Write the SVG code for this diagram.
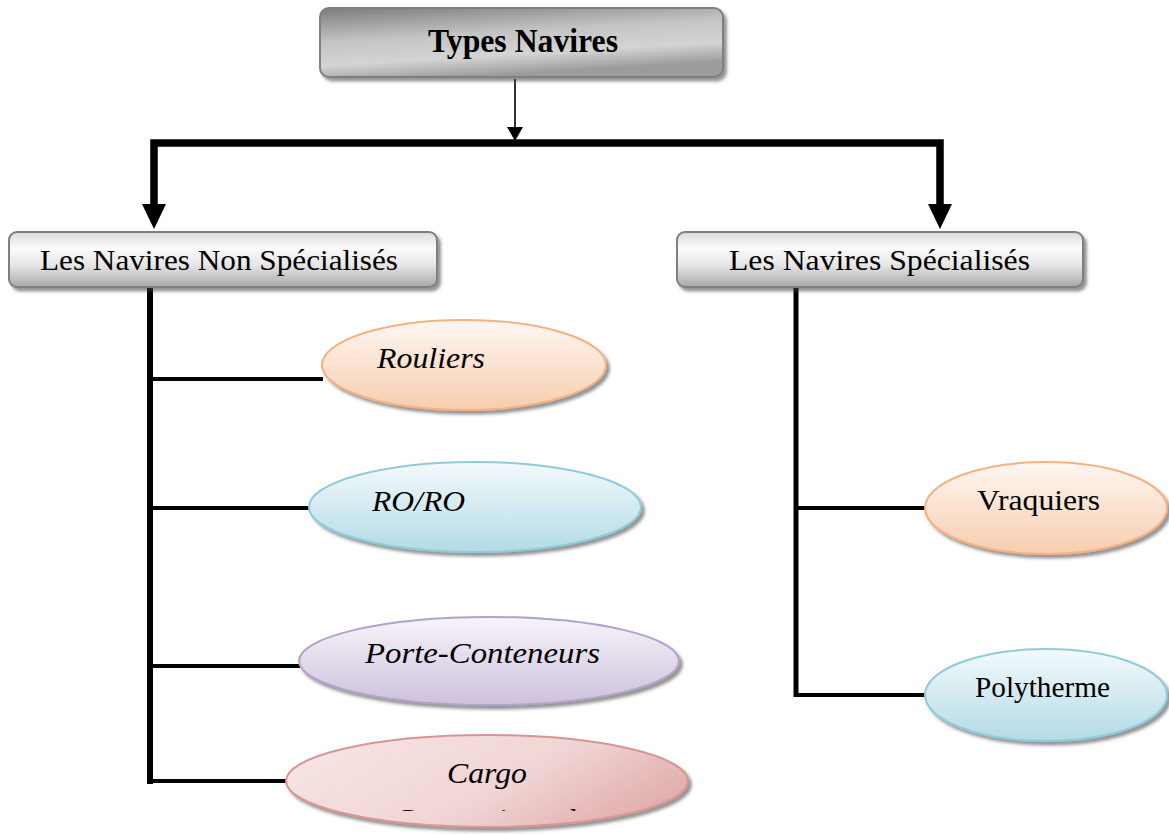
<svg xmlns="http://www.w3.org/2000/svg" width="1169" height="834" viewBox="0 0 1169 834">
  <style>
    .title { font-family: "Liberation Serif", "Times New Roman", serif; font-weight: bold; font-size: 34px; fill: #000; }
    .cat { font-family: "Liberation Serif", "Times New Roman", serif; font-size: 30px; fill: #000; }
    .leaf-i { font-family: "Liberation Serif", "Times New Roman", serif; font-style: italic; font-size: 29px; fill: #000; }
    .leaf { font-family: "Liberation Serif", "Times New Roman", serif; font-size: 30px; fill: #000; }
    .box { stroke: #7f7f7f; stroke-width: 2; filter: url(#shadow); }
    .oval { stroke-width: 2; filter: url(#shadow); }
    .thick { fill: none; stroke: #000; stroke-width: 7.5; stroke-linejoin: miter; }
    .trunk { fill: none; stroke: #000; stroke-width: 6; }
    .branch { fill: none; stroke: #000; stroke-width: 4; }
    .thin { fill: none; stroke: #000; stroke-width: 1.6; }
  </style>
  <defs>
    <filter id="shadow" x="-10%" y="-20%" width="125%" height="150%">
      <feDropShadow dx="3" dy="3.5" stdDeviation="1.6" flood-color="#404040" flood-opacity="0.55"/>
    </filter>
    <linearGradient id="gMetal" x1="0" y1="0" x2="0.35" y2="1">
      <stop offset="0" stop-color="#7c7c7c"/>
      <stop offset="0.45" stop-color="#c4c4c4"/>
      <stop offset="0.75" stop-color="#d4d4d4"/>
      <stop offset="1" stop-color="#9c9c9c"/>
    </linearGradient>
    <linearGradient id="gSilver" x1="0" y1="0" x2="0" y2="1">
      <stop offset="0" stop-color="#dcdcdc"/>
      <stop offset="0.3" stop-color="#fbfbfb"/>
      <stop offset="0.6" stop-color="#e6e6e6"/>
      <stop offset="1" stop-color="#a8a8a8"/>
    </linearGradient>
    <linearGradient id="gOrange" x1="0" y1="0" x2="0" y2="1">
      <stop offset="0" stop-color="#fef7f2"/>
      <stop offset="1" stop-color="#f8cdae"/>
    </linearGradient>
    <linearGradient id="gBlue" x1="0" y1="0" x2="0" y2="1">
      <stop offset="0" stop-color="#f4fafc"/>
      <stop offset="1" stop-color="#b3dbe6"/>
    </linearGradient>
    <linearGradient id="gPurple" x1="0" y1="0" x2="0" y2="1">
      <stop offset="0" stop-color="#f7f4fa"/>
      <stop offset="1" stop-color="#cdc1dc"/>
    </linearGradient>
    <linearGradient id="gPink" x1="0" y1="0.3" x2="1" y2="0.7">
      <stop offset="0" stop-color="#f6e4e3"/>
      <stop offset="0.55" stop-color="#f0d5d4"/>
      <stop offset="1" stop-color="#e0aaa9"/>
    </linearGradient>
    <marker id="headBig" markerUnits="userSpaceOnUse" markerWidth="25" markerHeight="24" viewBox="0 0 25 24" refX="0" refY="12" orient="auto">
      <path d="M0,0 L25,12 L0,24 z" fill="#000"/>
    </marker>
    <marker id="headSmall" markerUnits="userSpaceOnUse" markerWidth="14" markerHeight="16" viewBox="0 0 14 16" refX="0" refY="8" orient="auto">
      <path d="M0,0 L14,8 L0,16 z" fill="#000"/>
    </marker>
    <clipPath id="cargoClip">
      <rect x="280" y="730" width="420" height="81"/>
    </clipPath>
  </defs>

  <!-- connectors -->
  <g id="connectors">
    <line class="thin" x1="515" y1="79" x2="515" y2="127" marker-end="url(#headSmall)"/>
    <path class="thick" d="M515,143 H154 V204" marker-end="url(#headBig)"/>
    <path class="thick" d="M515,143 H940 V204" marker-end="url(#headBig)"/>
    <line class="trunk" x1="150" y1="287" x2="150" y2="784"/>
    <line class="branch" x1="150" y1="379" x2="323" y2="379"/>
    <line class="branch" x1="150" y1="508" x2="310" y2="508"/>
    <line class="branch" x1="150" y1="666" x2="300" y2="666"/>
    <line class="branch" x1="150" y1="781" x2="288" y2="781"/>
    <line class="trunk" x1="796" y1="287" x2="796" y2="697" style="stroke-width:5"/>
    <line class="branch" x1="796" y1="508" x2="926" y2="508"/>
    <line class="branch" x1="796" y1="695" x2="926" y2="695"/>
  </g>

  <!-- root -->
  <g id="types-navires">
    <rect class="box" x="320" y="8" width="403" height="69" rx="9" fill="url(#gMetal)"/>
    <text class="title" x="428" y="52" textLength="190" lengthAdjust="spacingAndGlyphs">Types Navires</text>
  </g>

  <!-- categories -->
  <g id="non-specialises">
    <rect class="box" x="9" y="232" width="428" height="55" rx="8" fill="url(#gSilver)"/>
    <text class="cat" x="40" y="270" textLength="358" lengthAdjust="spacingAndGlyphs">Les Navires Non Spécialisés</text>
  </g>
  <g id="specialises">
    <rect class="box" x="677" y="232" width="406" height="55" rx="8" fill="url(#gSilver)"/>
    <text class="cat" x="729" y="270" textLength="301" lengthAdjust="spacingAndGlyphs">Les Navires Spécialisés</text>
  </g>

  <!-- non-specialised ship types -->
  <g id="rouliers">
    <ellipse class="oval" cx="464" cy="365" rx="142" ry="45" fill="url(#gOrange)" stroke="#f4b183"/>
    <text class="leaf-i" x="377" y="368" textLength="108" lengthAdjust="spacingAndGlyphs">Rouliers</text>
  </g>
  <g id="roro">
    <ellipse class="oval" cx="475" cy="507" rx="166" ry="45" fill="url(#gBlue)" stroke="#8fcbda"/>
    <text class="leaf-i" x="372" y="511" textLength="93" lengthAdjust="spacingAndGlyphs">RO/RO</text>
  </g>
  <g id="porte-conteneurs">
    <ellipse class="oval" cx="489" cy="661" rx="190" ry="44" fill="url(#gPurple)" stroke="#b3a2c7"/>
    <text class="leaf-i" x="365" y="663" textLength="235" lengthAdjust="spacingAndGlyphs">Porte-Conteneurs</text>
  </g>
  <g id="cargo">
    <ellipse class="oval" cx="487" cy="781" rx="201" ry="46" fill="url(#gPink)" stroke="#d99594"/>
    <text class="leaf-i" x="447" y="783" textLength="80" lengthAdjust="spacingAndGlyphs">Cargo</text>
    <text class="leaf-i" x="393" y="829" textLength="183" lengthAdjust="spacingAndGlyphs" clip-path="url(#cargoClip)">Conventionnel</text>
  </g>

  <!-- specialised ship types -->
  <g id="vraquiers">
    <ellipse class="oval" cx="1046" cy="508" rx="121" ry="46" fill="url(#gOrange)" stroke="#f4b183"/>
    <text class="leaf" x="977" y="510" textLength="123" lengthAdjust="spacingAndGlyphs">Vraquiers</text>
  </g>
  <g id="polytherme">
    <ellipse class="oval" cx="1046" cy="695" rx="121" ry="46" fill="url(#gBlue)" stroke="#8fcbda"/>
    <text class="leaf" x="975" y="697" textLength="135" lengthAdjust="spacingAndGlyphs">Polytherme</text>
  </g>
</svg>
